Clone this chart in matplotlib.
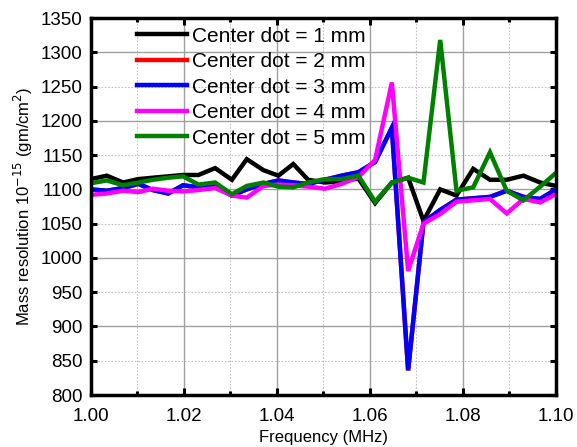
import numpy as np
import matplotlib
matplotlib.use("Agg")
import matplotlib.pyplot as plt
from matplotlib.ticker import MultipleLocator, FormatStrFormatter

plt.rcParams['font.family'] = ['Liberation Sans', 'DejaVu Sans']

# measured frequencies (MHz)
freq = [1.0000, 1.0034, 1.0069, 1.0102, 1.0133, 1.0166, 1.0198, 1.0231, 1.0267, 1.0303,
        1.0335, 1.0371, 1.0403, 1.0435, 1.0467, 1.0503, 1.0539, 1.0575, 1.0611, 1.0647,
        1.0682, 1.0715, 1.0751, 1.0786, 1.0822, 1.0858, 1.0894, 1.0930, 1.0966, 1.1000]

# mass resolution, 1e-15 gm/cm^2
res_1mm = [1115, 1120, 1110, 1115, 1117, 1119, 1121, 1121, 1131, 1114,
           1144, 1128, 1120, 1137, 1114, 1110, 1112, 1116, 1080, 1110,
           1117, 1054, 1100, 1091, 1130, 1114, 1114, 1120, 1110, 1105]
res_2mm = [1100, 1098, 1102, 1108, 1099, 1094, 1106, 1103, 1105, 1091,
           1100, 1108, 1113, 1110, 1108, 1114, 1120, 1125, 1140, 1190,
           836, 1052, 1070, 1085, 1087, 1089, 1098, 1089, 1086, 1100]
res_3mm = [1100, 1098, 1102, 1108, 1099, 1094, 1106, 1103, 1105, 1091,
           1100, 1108, 1113, 1110, 1108, 1114, 1120, 1125, 1140, 1190,
           836, 1052, 1070, 1085, 1087, 1089, 1098, 1089, 1086, 1100]
res_4mm = [1092, 1094, 1098, 1096, 1101, 1098, 1097, 1099, 1102, 1091,
           1088, 1105, 1107, 1106, 1104, 1101, 1108, 1118, 1143, 1256,
           981, 1050, 1064, 1082, 1084, 1086, 1065, 1086, 1081, 1093]
res_5mm = [1109, 1113, 1106, 1110, 1114, 1117, 1119, 1107, 1110, 1093,
           1105, 1110, 1104, 1103, 1110, 1115, 1115, 1120, 1082, 1110,
           1117, 1110, 1318, 1098, 1103, 1154, 1098, 1084, 1104, 1124]

series = [res_1mm, res_2mm, res_3mm, res_4mm, res_5mm]
labels = ['Center dot = 1 mm', 'Center dot = 2 mm', 'Center dot = 3 mm',
          'Center dot = 4 mm', 'Center dot = 5 mm']
colors = ['black', 'red', 'blue', 'magenta', 'green']

fig = plt.figure(figsize=(5.77, 4.47), dpi=100)
ax = fig.add_axes([0.1577, 0.1163, 0.8059, 0.8434])

for y, lab, c in zip(series, labels, colors):
    ax.plot(freq, y, color=c, lw=3.2, label=lab, solid_joinstyle='miter')

ax.set_xlim(1.0, 1.1)
ax.set_ylim(800, 1350)

ax.xaxis.set_major_locator(MultipleLocator(0.02))
ax.xaxis.set_minor_locator(MultipleLocator(0.01))
ax.xaxis.set_major_formatter(FormatStrFormatter('%.2f'))
ax.yaxis.set_major_locator(MultipleLocator(100))
ax.yaxis.set_minor_locator(MultipleLocator(50))
ax.yaxis.set_major_formatter(FormatStrFormatter('%d'))
ax.yaxis.set_minor_formatter(FormatStrFormatter('%d'))

ax.grid(which='major', color='#a0a0a0', lw=1.0, ls='-')
ax.grid(which='minor', color='#c0c0c0', lw=0.8, ls=(0, (1.5, 1.5)))
ax.set_axisbelow(True)

ax.tick_params(which='both', direction='in', top=True, right=True,
               labelsize=13.5, width=2.2)
ax.tick_params(axis='x', which='major', length=5, pad=9)
ax.tick_params(axis='x', which='minor', length=3, pad=9)
ax.tick_params(axis='y', which='both', length=4, pad=6)

for sp in ax.spines.values():
    sp.set_linewidth(2.5)

ax.set_xlabel('Frequency (MHz)', fontsize=12, labelpad=4)
ax.set_ylabel(r'Mass resolution 10$^{-15}$ (gm/cm$^{2}$)', fontsize=12, labelpad=4)

ax.legend(loc='upper left', bbox_to_anchor=(0.099, 0.977), frameon=False,
          fontsize=15, handlelength=2.4, handletextpad=0.25,
          labelspacing=0.31, borderpad=0, borderaxespad=0)

fig.savefig('out.png', dpi=100)
